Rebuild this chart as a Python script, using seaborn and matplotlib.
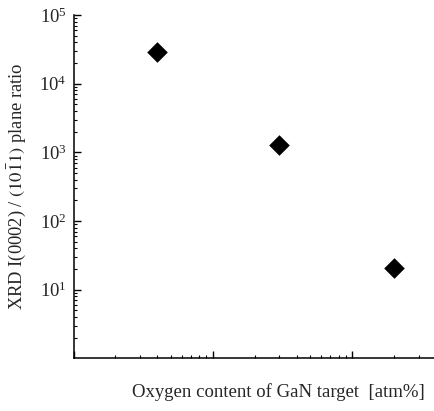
import matplotlib
matplotlib.use("Agg")
import matplotlib.pyplot as plt
import matplotlib.ticker as mticker
import seaborn as sns
import pandas as pd

# data
oxygen_content = [0.4, 3.0, 20.0]
plane_ratio = [2.9e4, 1.27e3, 20.5]
ytick_values = [1e1, 1e2, 1e3, 1e4, 1e5]

sns.set_style("ticks")
plt.rcParams["font.family"] = ["Liberation Serif", "DejaVu Serif"]
plt.rcParams["mathtext.fontset"] = "stix"

df = pd.DataFrame({"x": oxygen_content, "y": plane_ratio})

fig = plt.figure(figsize=(4.35, 4.11), dpi=100)
ax = fig.add_axes([0.169, 0.128, 0.831, 0.8355])

sns.scatterplot(data=df, x="x", y="y", marker="D", color="black", s=110,
                edgecolor="black", linewidth=0, ax=ax, legend=False)

ax.set_xscale("log")
ax.set_yscale("log")
ax.set_xlim(0.1, 39.4)
ax.set_ylim(1, 1e5)

ax.set_yticks(ytick_values)
ax.yaxis.set_minor_locator(mticker.LogLocator(base=10, subs=range(2, 10), numticks=20))
ax.xaxis.set_major_locator(mticker.LogLocator(base=10, numticks=10))
ax.xaxis.set_minor_locator(mticker.LogLocator(base=10, subs=range(2, 10), numticks=20))
ax.xaxis.set_major_formatter(mticker.NullFormatter())
ax.xaxis.set_minor_formatter(mticker.NullFormatter())
ax.yaxis.set_minor_formatter(mticker.NullFormatter())

ax.tick_params(axis="both", which="major", direction="in", length=5, width=1, labelsize=13.5, color="black", pad=5)
ax.tick_params(axis="both", which="minor", direction="in", length=2.5, width=0.8, color="black")

sns.despine(ax=ax)
for sp in ["left", "bottom"]:
    ax.spines[sp].set_linewidth(1.1)
    ax.spines[sp].set_color("black")

ax.set_xlabel("Oxygen content of GaN target  [atm%]", fontsize=13.5)
ax.set_ylabel(r"XRD I(0002) / $(10\bar{1}1)$ plane ratio", fontsize=13.3)
ax.xaxis.label.set_va("center")
ax.yaxis.label.set_va("center")
ax.xaxis.set_label_coords(0.566, -0.098)
ax.yaxis.set_label_coords(-0.158, 0.5)

fig.savefig("out.png", dpi=100)
